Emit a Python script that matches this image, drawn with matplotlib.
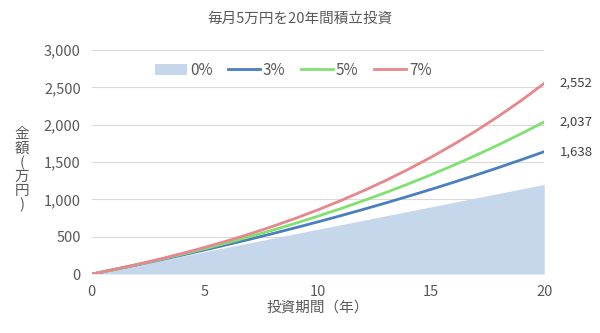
import numpy as np
import matplotlib.pyplot as plt

plt.rcParams['font.family'] = ['Noto Sans CJK JP', 'DejaVu Sans']

years = list(range(21))
# 積立額（万円）: 0%, 3%, 5%, 7%
v0 = [0, 60, 120, 180, 240, 300, 360, 420, 480, 540, 600, 660, 720, 780, 840, 900, 960, 1020, 1080, 1140, 1200]
v3 = [0, 61.0, 123.8, 188.5, 255.1, 323.7, 394.4, 467.2, 542.2, 619.4, 698.9, 780.9, 865.3, 952.2,
      1041.8, 1134.0, 1229.0, 1326.8, 1427.6, 1531.4, 1638.3]
v5 = [0, 61.6, 126.3, 194.3, 265.6, 340.5, 419.1, 501.7, 588.4, 679.4, 775.0, 875.3, 980.7, 1091.3,
      1207.5, 1329.5, 1457.6, 1592.1, 1733.3, 1881.6, 2037.2]
v7 = [0, 62.3, 128.8, 200.1, 276.3, 357.9, 445.2, 538.6, 638.6, 745.5, 860.0, 982.4, 1113.5, 1253.7,
      1403.7, 1564.2, 1736.0, 1919.7, 2116.4, 2326.8, 2552.0]
end_labels = ['1,638', '2,037', '2,552']

grey = '#595959'
fig = plt.figure(figsize=(6, 3.33), dpi=100)
ax = fig.add_axes([0.153, 0.177, 0.754, 0.673])

ax.fill_between(years, v0, 0, color='#c6d7ec', lw=0, label='0%')
ax.plot(years, v3, color='#4a7ebf', lw=2, label='3%')
ax.plot(years, v5, color='#80e070', lw=2, label='5%')
ax.plot(years, v7, color='#e8868c', lw=2, label='7%')

for vals, lab in zip([v3, v5, v7], end_labels):
    ax.annotate(lab, (years[-1], vals[-1]), xytext=(11, 0), textcoords='offset points',
                va='center', ha='left', fontsize=9.5, color='#404040')

ax.set_xlim(0, 20)
ax.set_ylim(0, 3000)
ax.set_xticks([0, 5, 10, 15, 20])
ax.set_yticks(range(0, 3001, 500))
ax.set_yticklabels([f'{v:,}' for v in range(0, 3001, 500)])
ax.tick_params(length=0, labelsize=10.5, colors=grey, pad=8)
ax.grid(axis='y', color='#d9d9d9', lw=0.8)
ax.set_axisbelow(True)
for s in ax.spines.values():
    s.set_visible(False)

ax.set_xlabel('投資期間（年）', fontsize=10.5, color=grey, labelpad=1)
fig.text(0.037, 0.49, '金\n額\n(\n万\n円\n)', fontsize=10.5, color=grey,
         ha='center', va='center', multialignment='center', linespacing=1.0)
fig.text(0.5, 0.945, '毎月5万円を20年間積立投資', fontsize=10.5, color=grey, ha='center', va='center')

ax.legend(loc='center', bbox_to_anchor=(0.445, 0.91), ncol=4, frameon=False,
          fontsize=11, labelcolor=grey, handlelength=2.1, handletextpad=0.2,
          columnspacing=1.0)

fig.savefig('out.png', dpi=100)
